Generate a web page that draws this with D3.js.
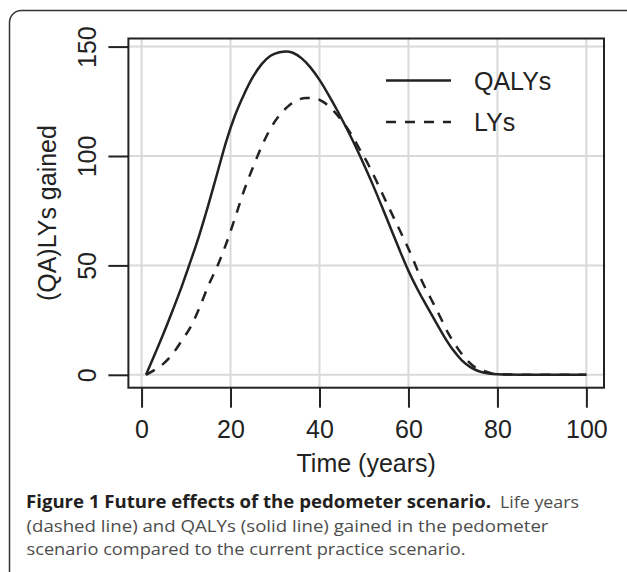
<!DOCTYPE html>
<html>
<head>
<meta charset="utf-8">
<script src="https://cdn.jsdelivr.net/npm/d3@7"></script>
<style>
  body { margin: 0; background: #fff; }
  svg { display: block; }
  .axis text { font-family: "Liberation Sans", Arial, sans-serif; font-size: 25px; fill: #222; }
  .caption { font-family: "Open Sans", sans-serif; font-size: 17px; }
</style>
</head>
<body>
<svg width="627" height="572"></svg>
<script>
// values
let years = [1, 3, 5, 7, 9, 11, 13, 15, 17, 19, 21, 23, 25, 27, 29, 31, 32.5, 34, 36, 38, 40, 42, 44, 46, 48, 50,
  52, 54, 56, 58, 60, 62, 64, 66, 68, 70, 72, 74, 76, 78, 80, 85, 90, 100];
let qalys = [0, 9.5, 19.2, 29.5, 40.2, 51.8, 64, 77.5, 92, 106.5, 118.5, 128, 136, 142, 145.8, 147.4, 147.8, 147.2, 144.6, 140.4, 134.8, 128.1, 120.8, 113, 104.8, 96,
  86.8, 77, 67, 57, 47.5, 39.2, 31.8, 24.6, 17.6, 11.4, 6.6, 3.4, 1.5, 0.6, 0.2, 0.03, 0, 0];

let lyYears = [1, 3, 5, 7, 9, 11, 13, 15, 17, 19, 21, 23, 25, 27, 29, 31, 33, 35, 37, 39, 41, 43, 45, 47, 49,
  51, 53, 55, 57, 59, 61, 63, 65, 67, 69, 71, 73, 75, 77, 79, 81, 85, 90, 100];
let lys = [0, 2.3, 5.2, 9.6, 15.5, 21.8, 30.5, 40.7, 49.5, 59.8, 71.6, 84, 94.6, 104.4, 112.6, 118.6, 122.8, 125.5, 126.5, 126.3, 124.5, 121, 116.2, 110.3, 103.2,
  96, 87.7, 79, 70.5, 62, 53, 43, 35, 27, 18.8, 12.3, 7, 3.4, 1.8, 0.5, 0.2, 0.05, 0, 0];

let xTicks = [0, 20, 40, 60, 80, 100];
let yTicks = [0, 50, 100, 150];
let legendNames = ['QALYs', 'LYs'];

let svg = d3.select('svg');

// panel frame (runs off the right and bottom)
svg.append('rect')
  .attr('x', 9.5).attr('y', 10.5)
  .attr('width', 700).attr('height', 700)
  .attr('rx', 12)
  .attr('fill', 'none')
  .attr('stroke', '#333')
  .attr('stroke-width', 1.5);

let pLeft = 128.4, pTop = 38.5, pRight = 604, pBottom = 387.7;

let x = d3.scaleLinear().domain([-2.96, 103.96]).range([pLeft, pRight]);
let y = d3.scaleLinear().domain([-5.9, 153.7]).range([pBottom, pTop]);

// grid
let grid = svg.append('g').attr('stroke', '#d9d9d9').attr('stroke-width', 2);
grid.selectAll('.gx').data(xTicks).enter().append('line')
  .attr('x1', d => x(d)).attr('x2', d => x(d))
  .attr('y1', pTop).attr('y2', pBottom);
grid.selectAll('.gy').data(yTicks).enter().append('line')
  .attr('x1', pLeft).attr('x2', pRight)
  .attr('y1', d => y(d)).attr('y2', d => y(d));

let line = d3.line().curve(d3.curveMonotoneX);

svg.append('path')
  .datum(years.map((t, i) => [x(t), y(qalys[i])]))
  .attr('d', line)
  .attr('fill', 'none')
  .attr('stroke', '#222')
  .attr('stroke-width', 2.5);

svg.append('path')
  .datum(lyYears.map((t, i) => [x(t), y(lys[i])]))
  .attr('d', line)
  .attr('fill', 'none')
  .attr('stroke', '#222')
  .attr('stroke-width', 2.5)
  .attr('stroke-dasharray', '10,9');

// box
svg.append('rect')
  .attr('x', pLeft).attr('y', pTop)
  .attr('width', pRight - pLeft).attr('height', pBottom - pTop)
  .attr('fill', 'none')
  .attr('stroke', '#222')
  .attr('stroke-width', 2);

// axes
let xAxis = svg.append('g')
  .attr('class', 'axis')
  .attr('transform', `translate(0,${pBottom})`)
  .call(d3.axisBottom(x).tickValues(xTicks).tickSize(20).tickFormat(d3.format('d')));
xAxis.select('.domain').remove();
xAxis.selectAll('line').attr('stroke', '#222').attr('stroke-width', 2);
xAxis.selectAll('text').attr('y', 50).attr('dy', 0);

let yAxis = svg.append('g')
  .attr('class', 'axis')
  .attr('transform', `translate(${pLeft},0)`)
  .call(d3.axisLeft(y).tickValues(yTicks).tickSize(20).tickFormat(d3.format('d')));
yAxis.select('.domain').remove();
yAxis.selectAll('line').attr('stroke', '#222').attr('stroke-width', 2);
yAxis.selectAll('text')
  .attr('transform', 'rotate(-90)')
  .attr('text-anchor', 'middle')
  .attr('x', 0).attr('y', -32).attr('dy', 0);

svg.append('text')
  .attr('x', (pLeft + pRight) / 2).attr('y', 472)
  .attr('text-anchor', 'middle')
  .style('font-family', '"Liberation Sans", Arial, sans-serif')
  .style('font-size', '25px').style('fill', '#222')
  .text('Time (years)');

svg.append('text')
  .attr('transform', `translate(56,${(pTop + pBottom) / 2}) rotate(-90)`)
  .attr('text-anchor', 'middle')
  .style('font-family', '"Liberation Sans", Arial, sans-serif')
  .style('font-size', '25px').style('fill', '#222')
  .text('(QA)LYs gained');

// legend
let legend = svg.append('g');
legendNames.forEach((name, i) => {
  let ly = 80.5 + i * 41.5;
  legend.append('line')
    .attr('x1', 386).attr('x2', 451)
    .attr('y1', ly).attr('y2', ly)
    .attr('stroke', '#222').attr('stroke-width', 2.5)
    .attr('stroke-dasharray', i == 1 ? '10,9' : null);
  legend.append('text')
    .attr('x', 474).attr('y', ly + 9)
    .style('font-family', '"Liberation Sans", Arial, sans-serif')
    .style('font-size', '25px').style('fill', '#222')
    .text(name);
});

// caption
let cap = svg.append('g').attr('class', 'caption');
cap.append('text')
  .attr('x', 26).attr('y', 508)
  .attr('textLength', 465).attr('lengthAdjust', 'spacingAndGlyphs')
  .style('font-weight', 'bold').style('fill', '#231f20')
  .text('Figure 1 Future effects of the pedometer scenario.');
cap.append('text')
  .attr('x', 500).attr('y', 508)
  .attr('textLength', 79).attr('lengthAdjust', 'spacingAndGlyphs')
  .style('fill', '#4d4d4d')
  .text('Life years');
cap.append('text')
  .attr('x', 26.5).attr('y', 531.5)
  .attr('textLength', 522).attr('lengthAdjust', 'spacingAndGlyphs')
  .style('fill', '#4d4d4d')
  .text('(dashed line) and QALYs (solid line) gained in the pedometer');
cap.append('text')
  .attr('x', 26.5).attr('y', 555)
  .attr('textLength', 439).attr('lengthAdjust', 'spacingAndGlyphs')
  .style('fill', '#4d4d4d')
  .text('scenario compared to the current practice scenario.');
</script>
</body>
</html>
